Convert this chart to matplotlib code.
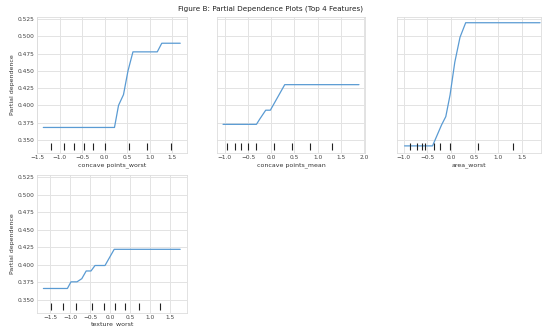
import matplotlib
matplotlib.use("Agg")
import matplotlib.pyplot as plt
import seaborn as sns

sns.set_style("whitegrid")
plt.rcParams['font.family'] = ['DejaVu Sans']

title = "Figure B: Partial Dependence Plots (Top 4 Features)"
features = ["concave points_worst", "concave points_mean", "area_worst", "texture_worst"]

cpw_x = [-1.36, 0.22, 0.31, 0.42, 0.52, 0.63, 1.17, 1.27, 1.68]
cpw_y = [0.368, 0.368, 0.400, 0.4155, 0.450, 0.4775, 0.4775, 0.490, 0.490]
cpw_dec = [-1.19, -0.91, -0.67, -0.46, -0.26, 0.02, 0.54, 0.95, 1.47]

cpm_x = [-1.04, -0.32, -0.25, -0.12, -0.02, 0.29, 1.89]
cpm_y = [0.3725, 0.3725, 0.380, 0.393, 0.393, 0.430, 0.430]
cpm_dec = [-0.96, -0.79, -0.66, -0.51, -0.34, 0.06, 0.45, 0.83, 1.31]

aw_x = [-0.98, -0.39, -0.20, -0.11, -0.02, 0.08, 0.19, 0.31, 1.88]
aw_y = [0.3413, 0.3413, 0.3716, 0.3837, 0.415, 0.4625, 0.4986, 0.5197, 0.5197]
aw_dec = [-0.86, -0.71, -0.62, -0.54, -0.35, -0.23, -0.02, 0.58, 1.31]

tw_x = [-1.67, -1.07, -0.98, -0.83, -0.71, -0.60, -0.48, -0.38, -0.13, 0.10, 1.75]
tw_y = [0.366, 0.366, 0.3755, 0.3755, 0.380, 0.391, 0.391, 0.3988, 0.3988, 0.4219, 0.4219]
tw_dec = [-1.48, -1.18, -0.85, -0.46, -0.16, 0.11, 0.36, 0.73, 1.25]

xs = [cpw_x, cpm_x, aw_x, tw_x]
ys = [cpw_y, cpm_y, aw_y, tw_y]
decs = [cpw_dec, cpm_dec, aw_dec, tw_dec]
xlims = [(-1.5, 1.83), (-1.17, 2.02), (-1.14, 1.90), (-1.83, 1.92)]
xticks = [[-1.5, -1.0, -0.5, 0.0, 0.5, 1.0, 1.5],
          [-1.0, -0.5, 0.0, 0.5, 1.0, 1.5, 2.0],
          [-1.0, -0.5, 0.0, 0.5, 1.0, 1.5],
          [-1.5, -1.0, -0.5, 0.0, 0.5, 1.0, 1.5]]
yticks = [0.350, 0.375, 0.400, 0.425, 0.450, 0.475, 0.500, 0.525]

fig = plt.figure(figsize=(5.42, 3.27), dpi=100)
W, H = 542, 327
boxes = [(37, 17, 187, 153), (217, 17, 365, 153), (397, 17, 541, 153), (37, 175, 187, 313)]

for i, (l, t, r, b) in enumerate(boxes):
    ax = fig.add_axes([l / W, 1 - b / H, (r - l) / W, (b - t) / H])
    ax.plot(xs[i], ys[i], color='#5a9bd3', lw=0.9)
    ax.set_ylim(0.331, 0.528)
    ax.set_xlim(*xlims[i])
    ax.set_xticks(xticks[i])
    ax.set_yticks(yticks)
    trans = ax.get_xaxis_transform()
    ax.vlines(decs[i], 0.02, 0.07, transform=trans, color='#222222', lw=0.8)
    ax.tick_params(labelsize=4.2, pad=1.5, length=0)
    ax.grid(True, color='#e3e3e3', lw=0.7)
    for s in ax.spines.values():
        s.set_color('#dddddd')
        s.set_linewidth(0.6)
    ax.set_xlabel(features[i], fontsize=4.5, labelpad=1.0 if i == 3 else 1.5, color='#333333')
    if i in (0, 3):
        ax.set_ylabel("Partial dependence", fontsize=4.5, labelpad=2, color='#333333')
    else:
        ax.set_yticklabels([])
    ax.tick_params(colors='#444444')
    if i in (0, 3):
        ax.set_yticklabels([f"{v:.3f}" for v in yticks])

fig.text(0.5, 1 - 9 / H, title, ha='center', va='center', fontsize=5.2, color='#222222')
fig.savefig("out.png", dpi=100)
